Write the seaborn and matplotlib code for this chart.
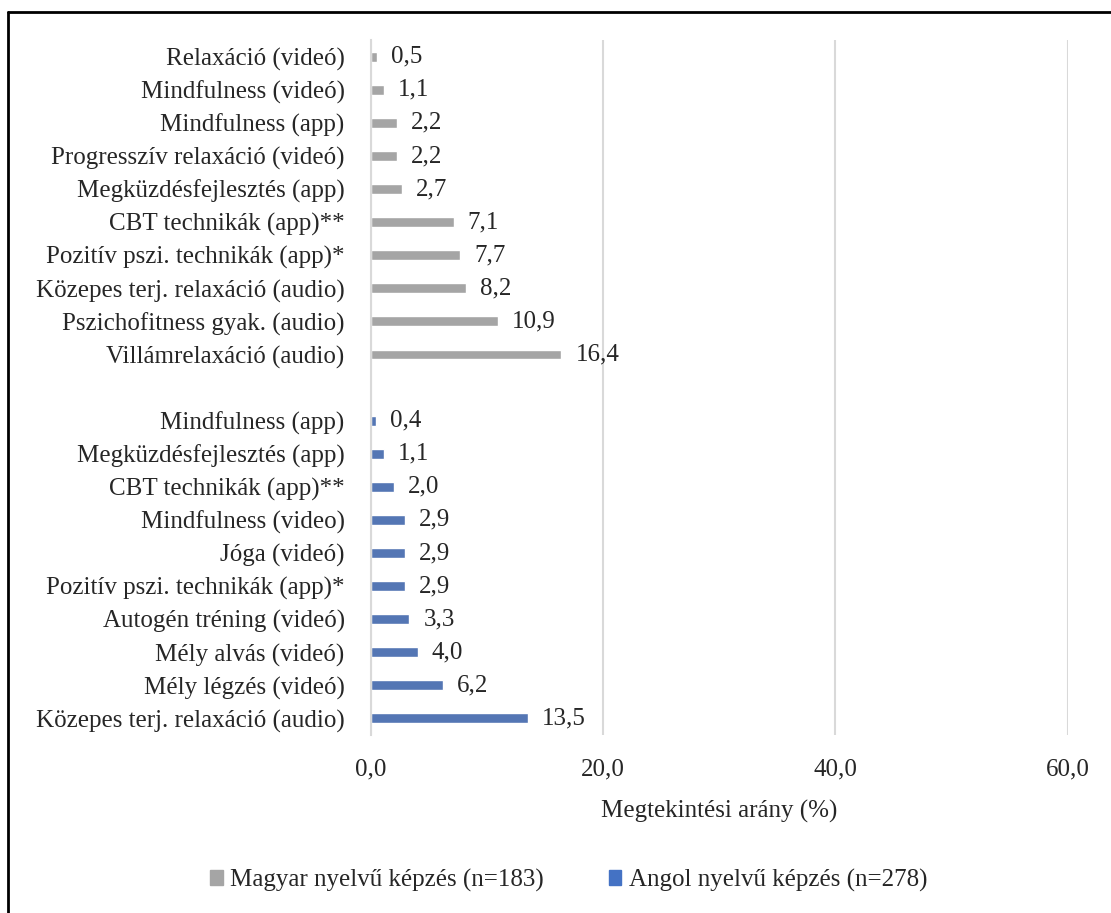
import pandas as pd
import numpy as np
import seaborn as sns
from matplotlib import pyplot as plt
from matplotlib.lines import Line2D
from matplotlib.patches import Patch

hu_labels = ['Relaxáció (videó)', 'Mindfulness (videó)', 'Mindfulness (app)',
             'Progresszív relaxáció (videó)', 'Megküzdésfejlesztés (app)',
             'CBT technikák (app)**', 'Pozitív pszi. technikák (app)*',
             'Közepes terj. relaxáció (audio)', 'Pszichofitness gyak. (audio)',
             'Villámrelaxáció (audio)']
hu_values = [0.5, 1.1, 2.2, 2.2, 2.7, 7.1, 7.7, 8.2, 10.9, 16.4]

en_labels = ['Mindfulness (app)', 'Megküzdésfejlesztés (app)', 'CBT technikák (app)**',
             'Mindfulness (video)', 'Jóga (videó)', 'Pozitív pszi. technikák (app)*',
             'Autogén tréning (videó)', 'Mély alvás (videó)', 'Mély légzés (videó)',
             'Közepes terj. relaxáció (audio)']
en_values = [0.4, 1.1, 2.0, 2.9, 2.9, 2.9, 3.3, 4.0, 6.2, 13.5]

groups = ['Magyar nyelvű képzés (n=183)', 'Angol nyelvű képzés (n=278)']
colors = ['#A5A5A5', '#4472C4']
xticks = [0, 20, 40, 60]

sns.set_style('white')
plt.rcParams['font.family'] = ['Liberation Serif', 'DejaVu Serif']
fs = 18

# unique slot keys, empty slot between the two groups
hu_slots = ['hu%d' % i for i in range(len(hu_labels))]
en_slots = ['en%d' % i for i in range(len(en_labels))]
order = hu_slots + ['gap'] + en_slots
tick_text = hu_labels + [''] + en_labels

df = pd.concat([
    pd.DataFrame({'slot': hu_slots, 'value': hu_values, 'group': groups[0]}),
    pd.DataFrame({'slot': en_slots, 'value': en_values, 'group': groups[1]}),
])

fig = plt.figure(figsize=(11.11, 9.13), dpi=100)
ax = fig.add_axes([0.334, 0.195, 0.627, 0.761])
sns.barplot(data=df, x='value', y='slot', hue='group', order=order,
            palette=colors, dodge=False, width=0.3, legend=False, ax=ax)

for c in ax.containers:
    ax.bar_label(c, fmt=lambda v: f'{v:.1f}'.replace('.', ','), padding=10, fontsize=fs)

ax.set_xlim(0, 60)
ax.set_xticks(xticks)
ax.set_xticklabels([f'{v:.1f}'.replace('.', ',') for v in xticks], fontsize=fs)
ax.set_yticks(range(len(order)))
ax.set_yticklabels(tick_text, fontsize=fs)
ax.set_yticks(np.arange(-0.5, len(order)), minor=True)
ax.tick_params(axis='y', which='major', length=0, pad=19)
ax.tick_params(axis='y', which='minor', length=8, color='#BFBFBF', width=1.5)
ax.tick_params(axis='x', length=0, pad=17)
ax.set_ylim(len(order) - 0.5, -0.5)
ax.xaxis.grid(True, color='#D9D9D9', linewidth=1.5)
ax.set_axisbelow(True)
for s in ['top', 'right', 'bottom']:
    ax.spines[s].set_visible(False)
ax.spines['left'].set_color('#D9D9D9')
ax.spines['left'].set_linewidth(1.5)
ax.set_ylabel('')
ax.set_xlabel('Megtekintési arány (%)', fontsize=fs, labelpad=14)

handles = [Patch(color=colors[0]), Patch(color=colors[1])]
fig.legend(handles, groups, loc='center', bbox_to_anchor=(0.512, 0.036), ncol=2,
           frameon=False, fontsize=fs, handlelength=0.5, handleheight=0.5,
           handletextpad=0.3, columnspacing=2.6)

# outer frame
fig.add_artist(Line2D([8 / 1111, 8 / 1111], [0, 1 - 12 / 913], color='black', linewidth=2))
fig.add_artist(Line2D([8 / 1111, 1], [1 - 12 / 913, 1 - 12 / 913], color='black', linewidth=2))

plt.savefig('out.png', dpi=100)
